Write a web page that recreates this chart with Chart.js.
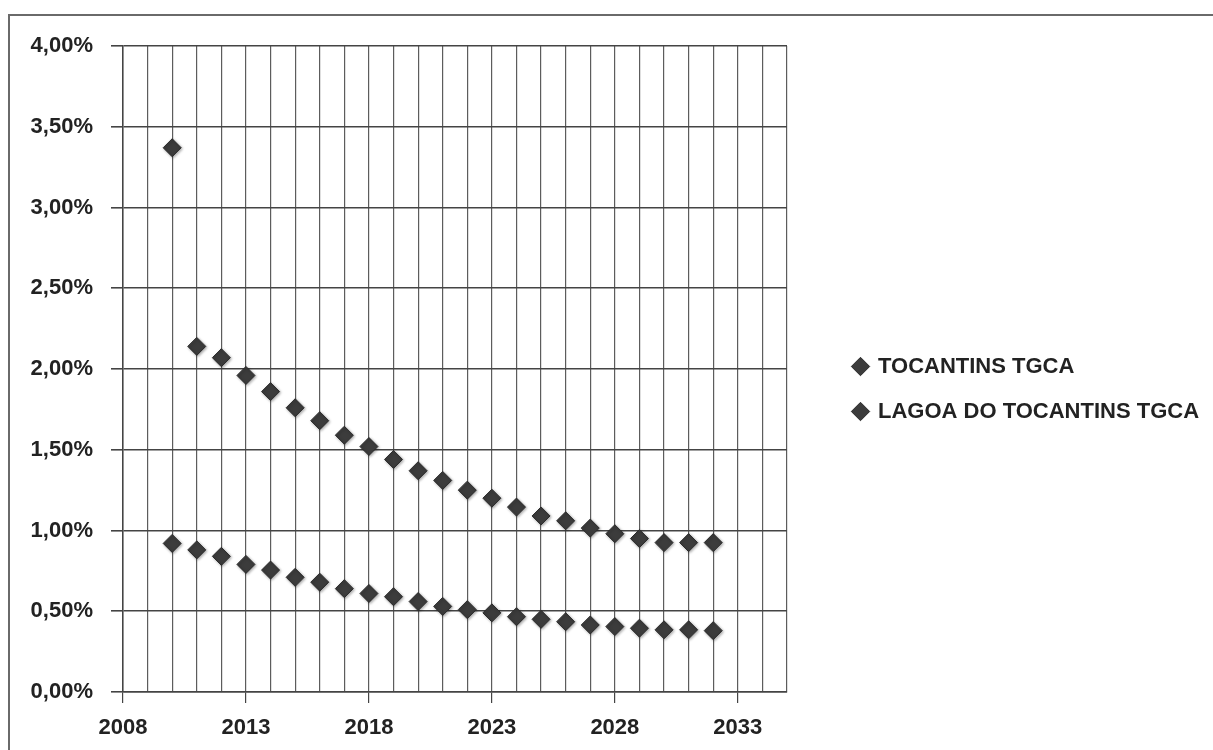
<!DOCTYPE html>
<html>
<head>
<meta charset="utf-8">
<script src="https://cdn.jsdelivr.net/npm/chart.js@4.4.0/dist/chart.umd.min.js"></script>
<style>
   html, body { margin: 0; padding: 0; background: #fff; }
   #wrap { position: relative; width: 1213px; height: 750px; overflow: hidden; }
   #frame { position: absolute; left: 8px; top: 14px; width: 1230px; height: 760px; border-top: 2px solid #6a6a6a; border-left: 2px solid #6a6a6a; }
   canvas { position: absolute; left: 0; top: 0; }
</style>
</head>
<body>
<div id="wrap">
   <div id="frame"></div>
   <canvas id="tgcaChart" width="1213" height="750"></canvas>
</div>
<script>
const years = [2010, 2011, 2012, 2013, 2014, 2015, 2016, 2017, 2018, 2019, 2020, 2021, 2022, 2023, 2024, 2025, 2026, 2027, 2028, 2029, 2030, 2031, 2032];
const tocantinsTgca = [0.92, 0.88, 0.84, 0.79, 0.755, 0.71, 0.68, 0.64, 0.61, 0.59, 0.56, 0.53, 0.51, 0.49, 0.466, 0.45, 0.435, 0.415, 0.405, 0.395, 0.385, 0.385, 0.38];
const lagoaTgca = [3.37, 2.14, 2.07, 1.96, 1.86, 1.76, 1.68, 1.59, 1.52, 1.44, 1.37, 1.31, 1.25, 1.20, 1.145, 1.09, 1.06, 1.015, 0.98, 0.95, 0.925, 0.925, 0.925];
const seriesNames = ['TOCANTINS TGCA', 'LAGOA DO TOCANTINS TGCA'];
const yTicks = [0, 0.5, 1, 1.5, 2, 2.5, 3, 3.5, 4];

const font = { family: '"Liberation Sans", Arial, sans-serif', size: 22, weight: 'bold' };

function toPoints(vals) {
   return years.map(function(y, i) { return { x: y, y: vals[i] }; });
}

// legend needs more room than the layout gives a side box, and sits a bit higher
const legendFix = {
   id: 'legendFix',
   beforeInit: function(chart) {
      const lg = chart.legend;
      const fit = lg.fit;
      lg.fit = function() {
         fit.call(this);
         this.width = 376;
      };
      const draw = lg.draw;
      lg.draw = function() {
         const c = this.ctx;
         c.save();
         c.translate(0, -9);
         draw.apply(this, arguments);
         c.restore();
      };
   },
   beforeDatasetsDraw: function(chart) {
      const c = chart.ctx;
      c.save();
      c.shadowColor = 'rgba(0,0,0,0.35)';
      c.shadowBlur = 3;
      c.shadowOffsetX = 1;
      c.shadowOffsetY = 1;
   },
   afterDatasetsDraw: function(chart) {
      chart.ctx.restore();
   }
};

const ctx = document.getElementById('tgcaChart').getContext('2d');
const tgcaChart = new Chart(ctx, {
   type: 'scatter',
   data: {
      datasets: [
         {
            label: seriesNames[0],
            data: toPoints(tocantinsTgca),
            pointStyle: 'rectRot',
            pointRadius: 9,
            pointHoverRadius: 9,
            backgroundColor: '#3c3c3c',
            borderColor: '#2b2b2b',
            borderWidth: 1
         },
         {
            label: seriesNames[1],
            data: toPoints(lagoaTgca),
            pointStyle: 'rectRot',
            pointRadius: 9,
            pointHoverRadius: 9,
            backgroundColor: '#3c3c3c',
            borderColor: '#2b2b2b',
            borderWidth: 1
         }
      ]
   },
   plugins: [legendFix],
   options: {
      responsive: false,
      animation: false,
      layout: { padding: { top: 46, right: 6, bottom: 0, left: 0 } },
      plugins: {
         tooltip: { enabled: false },
         legend: {
            position: 'right',
            align: 'center',
            labels: {
               usePointStyle: true,
               boxWidth: 13,
               boxHeight: 13,
               padding: 23,
               color: '#222',
               font: font
            }
         }
      },
      scales: {
         x: {
            type: 'linear',
            min: 2008,
            max: 2035,
            afterFit: function(s) { s.height = 58; },
            afterBuildTicks: function(s) {
               s.ticks = [];
               for (let v = 2008; v <= 2035; v++) s.ticks.push({ value: v });
            },
            ticks: {
               autoSkip: false,
               maxRotation: 0,
               padding: 12,
               color: '#222',
               font: font,
               callback: function(v) { return (v - 2008) % 5 === 0 ? String(v) : ''; }
            },
            grid: {
               color: '#5c5c5c',
               lineWidth: 1.2,
               tickLength: 11,
               tickColor: function(c) {
                  return c.tick && (c.tick.value - 2008) % 5 === 0 ? '#444' : 'rgba(0,0,0,0)';
               }
            },
            border: { color: '#444', width: 1.5 }
         },
         y: {
            min: 0,
            max: 4,
            afterFit: function(s) { s.width = 123; },
            afterBuildTicks: function(s) {
               s.ticks = yTicks.map(function(v) { return { value: v }; });
            },
            ticks: {
               padding: 18,
               color: '#222',
               font: font,
               callback: function(v) { return v.toFixed(2).replace('.', ',') + '%'; }
            },
            grid: { color: '#444', lineWidth: 1.6, tickLength: 12, tickColor: '#444' },
            border: { color: '#444', width: 1.5 }
         },
         gap: {
            position: 'right',
            display: true,
            min: 0,
            max: 1,
            afterFit: function(s) { s.width = 44; },
            grid: { display: false },
            border: { display: false },
            ticks: { display: false }
         }
      }
   }
});
</script>
</body>
</html>
